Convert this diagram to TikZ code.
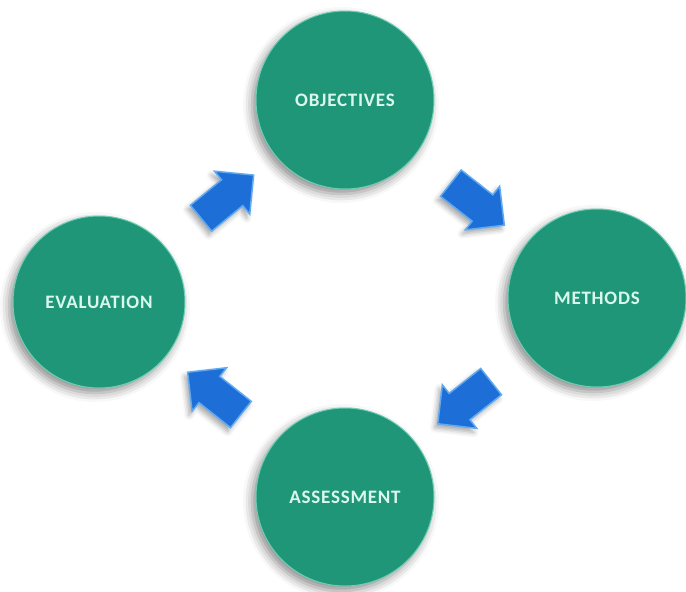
\documentclass[tikz,border=0pt]{standalone}
\usepackage{fontspec}
\setmainfont{Carlito}
\usetikzlibrary{shapes.arrows,shadows.blur}
\definecolor{stagegreen}{RGB}{32,150,120}
\definecolor{stagerim}{RGB}{110,205,180}
\definecolor{stagetext}{RGB}{218,247,238}
\definecolor{arrowblue}{RGB}{30,110,215}
\definecolor{arrowrim}{RGB}{95,170,240}
\begin{document}
\begin{tikzpicture}[x=1pt, y=-1pt,
    stage/.style={circle, fill=stagegreen, draw=stagerim, line width=1pt,
      minimum size=178pt, inner sep=0pt, text=stagetext,
      font=\fontsize{19}{22}\selectfont\bfseries\addfontfeatures{LetterSpace=4},
      blur shadow={shadow xshift=-4pt, shadow yshift=-5pt, shadow blur radius=9pt, shadow opacity=45}},
    blockarrow/.style={single arrow, fill=arrowblue, draw=arrowrim, line width=1.5pt,
      inner xsep=0pt, inner ysep=16pt, minimum height=68pt,
      single arrow head extend=11pt, sloped, allow upside down,
      blur shadow={shadow xshift=-3pt, shadow yshift=-4pt, shadow blur radius=5pt, shadow opacity=35}}]
  \useasboundingbox (0,0) rectangle (686,592);
  % Stages of the cycle
  \node[stage] (objectives) at (345,100) {OBJECTIVES};
  \node[stage] (methods) at (597,298) {METHODS};
  \node[stage] (assessment) at (345,497) {ASSESSMENT};
  \node[stage, minimum size=172pt] (evaluation) at (99,302) {EVALUATION};
  % Arrows between stages
  \path (evaluation) -- (objectives) node[blockarrow, midway] (toobj) {};
  \path (objectives) -- (methods) node[blockarrow, midway] (tometh) {};
  \path (methods) -- (assessment) node[blockarrow, midway] (toass) {};
  \path (assessment) -- (evaluation) node[blockarrow, midway] (toeval) {};
\end{tikzpicture}
\end{document}
